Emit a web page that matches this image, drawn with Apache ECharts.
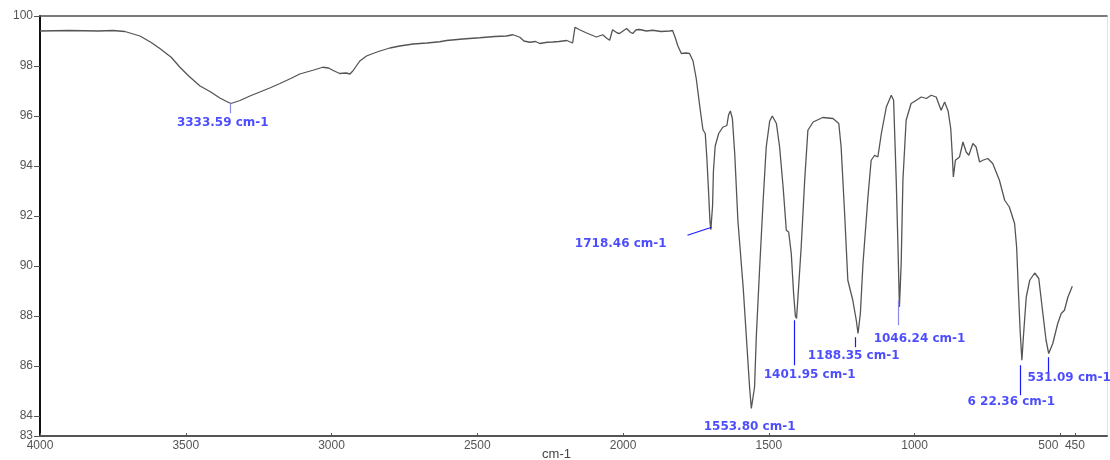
<!DOCTYPE html>
<html>
<head>
<meta charset="utf-8">
<script src="https://cdn.jsdelivr.net/npm/echarts@6/dist/echarts.min.js"></script>
<style>html,body{margin:0;padding:0;background:#fff}#c{width:1110px;height:460px}</style>
</head>
<body>
<div id="c"></div>
<script>
// Wavenumber (cm-1) and transmittance (%T)
var wavenumbers = [4000,3900,3800,3750,3709,3657,3620,3589,3550,3520,3490,3451,3417,3383,3360,3345,3314,3280,3246,3210,3177,3140,3109,3064,3030,3010,2996,2972,2950,2937,2927,2915,2903,2880,2858,2834,2800,2766,2720,2673,2629,2605,2550,2492,2440,2400,2378,2354,2340,2320,2300,2286,2260,2241,2220,2193,2173,2165,2149,2125,2100,2091,2070,2055,2046,2036,2020,2012,2000,1988,1975,1967,1955,1943,1920,1898,1870,1840,1830,1820,1812,1800,1785,1772,1760,1749,1737,1726,1718,1712,1706,1702,1699,1695,1693,1690,1684,1672,1658,1644,1638,1632,1625,1617,1606,1588,1577,1566,1560,1554,1549,1543,1532,1520,1509,1497,1488,1474,1463,1451,1440,1432,1423,1415,1409,1405,1400,1389,1377,1366,1348,1315,1280,1260,1252,1240,1229,1212,1200,1194,1186,1177,1160,1149,1137,1126,1114,1097,1080,1072,1063,1057,1052,1046,1040,1029,1012,994,977,960,943,926,909,897,885,876,871,867,860,846,834,823,814,800,789,777,766,749,732,709,691,675,657,650,643,638,632,626,617,605,588,574,560,549,540,526,509,497,486,474,459];
var transmittance = [99.40,99.42,99.40,99.42,99.38,99.20,98.95,98.70,98.35,97.95,97.60,97.20,96.98,96.72,96.58,96.50,96.62,96.80,96.96,97.13,97.30,97.50,97.68,97.83,97.95,97.92,97.83,97.70,97.72,97.68,97.80,98.00,98.20,98.40,98.50,98.60,98.72,98.80,98.88,98.92,98.97,99.02,99.08,99.13,99.18,99.20,99.25,99.15,99.00,98.95,98.98,98.90,98.95,98.96,98.98,99.02,98.92,99.55,99.45,99.32,99.20,99.16,99.25,99.10,99.03,99.45,99.32,99.30,99.40,99.50,99.35,99.30,99.45,99.46,99.40,99.43,99.38,99.40,99.42,99.10,98.80,98.50,98.52,98.50,98.20,97.50,96.40,95.45,95.30,94.20,92.80,91.80,91.45,91.50,92.40,93.80,94.80,95.30,95.55,95.62,96.05,96.20,95.90,94.50,91.80,89.15,87.15,85.15,84.30,84.36,85.15,87.15,89.80,92.50,94.75,95.80,96.00,95.70,94.76,93.16,91.43,91.36,90.50,88.90,88.00,87.90,88.76,90.76,93.43,95.43,95.76,95.94,95.90,95.70,94.76,92.10,89.43,88.63,87.83,87.30,88.10,90.10,92.76,94.23,94.43,94.36,95.30,96.36,96.83,96.63,93.43,90.76,88.36,90.10,93.43,95.83,96.50,96.63,96.76,96.70,96.83,96.76,96.23,96.56,96.20,95.50,94.50,93.56,94.23,94.36,94.96,94.56,94.43,94.90,94.76,94.16,94.23,94.30,94.10,93.43,92.63,92.36,91.70,90.76,88.76,87.43,86.23,87.30,88.76,89.43,89.72,89.50,88.10,87.03,86.50,86.90,87.70,88.10,88.23,88.76,89.19];

// Axis ticks
var xTickValues = [4000,3500,3000,2500,2000,1500,1000,500,450];
var xTickLabels = ['4000','3500','3000','2500','2000','1500','1000','500','450'];
var yTickValues = [83.2,84,86,88,90,92,94,96,98,100];
var yTickLabels = ['83','84','86','88','90','92','94','96','98','100'];

// Peak annotations (text, stick from/to in data units, label anchor)
var peakTexts   = ['3333.59 cm-1','1718.46 cm-1','1553.80 cm-1','1401.95 cm-1','1188.35 cm-1','1046.24 cm-1','6 22.36 cm-1','531.09 cm-1'];
var stickX1     = [3349,1779,null,1412,1203,1055,637,541];
var stickY1     = [96.51,91.23,null,87.83,87.15,88.63,86.03,86.35];
var stickX2     = [3349,1696,null,1412,1203,1055,637,541];
var stickY2     = [96.11,91.55,null,86.03,86.75,87.63,84.83,85.75];
var stickColors = ['#8c8ce8','#1a1aff','#1a1aff','#1a1aff','#1a1aff','#8c8ce8','#1a1aff','#1a1aff'];
var labelX      = [3373,2008,1566,1360,1209,983,668,613];
var labelY      = [95.71,90.90,83.55,85.63,86.39,87.07,84.55,85.51];
var labelAlign  = ['center','center','center','center','center','center','center','left'];

var spectrum = wavenumbers.map(function(w,i){return [w, transmittance[i]];});
var sticks = [];
peakTexts.forEach(function(t,i){
  if (stickX1[i] !== null) sticks.push({coords:[[stickX1[i],stickY1[i]],[stickX2[i],stickY2[i]]], lineStyle:{color:stickColors[i]}});
});
var labels = peakTexts.map(function(t,i){
  return {value:[labelX[i],labelY[i]], label:{formatter:t, align:labelAlign[i]}};
});

var chart = echarts.init(document.getElementById('c'), null, {renderer:'canvas'});
chart.setOption({
  animation:false,
  backgroundColor:'#ffffff',
  grid:{left:40,right:3,top:16,bottom:24,containLabel:false,outerBoundsMode:'none'},
  xAxis:[{
    type:'value', inverse:true, min:340, max:4000, position:'bottom',
    axisLine:{show:true,onZero:false,lineStyle:{color:'#555555',width:2}},
    axisTick:{show:true,inside:true,length:3,customValues:xTickValues,lineStyle:{color:'#555555'}},
    axisLabel:{customValues:xTickValues,color:'#555555',fontSize:12,fontFamily:'Liberation Sans, Arial, sans-serif',margin:4,
      formatter:function(v){var s=xTickLabels[xTickValues.indexOf(v)]; return v===500?'{a|'+s+'}':s;},
      rich:{a:{color:'#555555',fontSize:12,fontFamily:'Liberation Sans, Arial, sans-serif',padding:[0,24,0,0]}}},
    splitLine:{show:false},
    name:'cm-1', nameLocation:'middle', nameGap:12, nameMoveOverlap:false,
    nameTextStyle:{color:'#444444',fontSize:13,fontFamily:'Liberation Sans, Arial, sans-serif',padding:[0,34,0,0]}
  },{
    type:'value', inverse:true, min:340, max:4000, position:'top',
    axisLine:{show:true,onZero:false,lineStyle:{color:'#505050',width:1.5}},
    axisTick:{show:false}, axisLabel:{show:false}, splitLine:{show:false}
  }],
  yAxis:[{
    type:'value', min:83.2, max:100, position:'left',
    axisLine:{show:true,onZero:false,lineStyle:{color:'#111111',width:2}},
    axisTick:{show:true,length:6,customValues:yTickValues,lineStyle:{color:'#555555'}},
    axisLabel:{customValues:yTickValues,color:'#555555',fontSize:12,fontFamily:'Liberation Sans, Arial, sans-serif',margin:7,
      formatter:function(v){return yTickLabels[yTickValues.indexOf(v)];}},
    splitLine:{show:false}
  },{
    type:'value', min:83.2, max:100, position:'right',
    axisLine:{show:true,onZero:false,lineStyle:{color:'#e4e4e4',width:1}},
    axisTick:{show:false}, axisLabel:{show:false}, splitLine:{show:false}
  }],
  series:[{
    type:'line', data:spectrum, showSymbol:false, symbol:'none', smooth:false,
    lineStyle:{color:'#555555',width:1.3}, z:3
  },{
    type:'lines', coordinateSystem:'cartesian2d', data:sticks,
    lineStyle:{width:1.2,opacity:1}, z:4
  },{
    type:'scatter', data:labels, symbolSize:0, silent:true, z:5,
    label:{show:true,position:'inside',verticalAlign:'middle',color:'#1f1fff',fontSize:12,fontWeight:'bold',fontFamily:'DejaVu Sans, sans-serif'}
  }]
});
</script>
</body>
</html>
